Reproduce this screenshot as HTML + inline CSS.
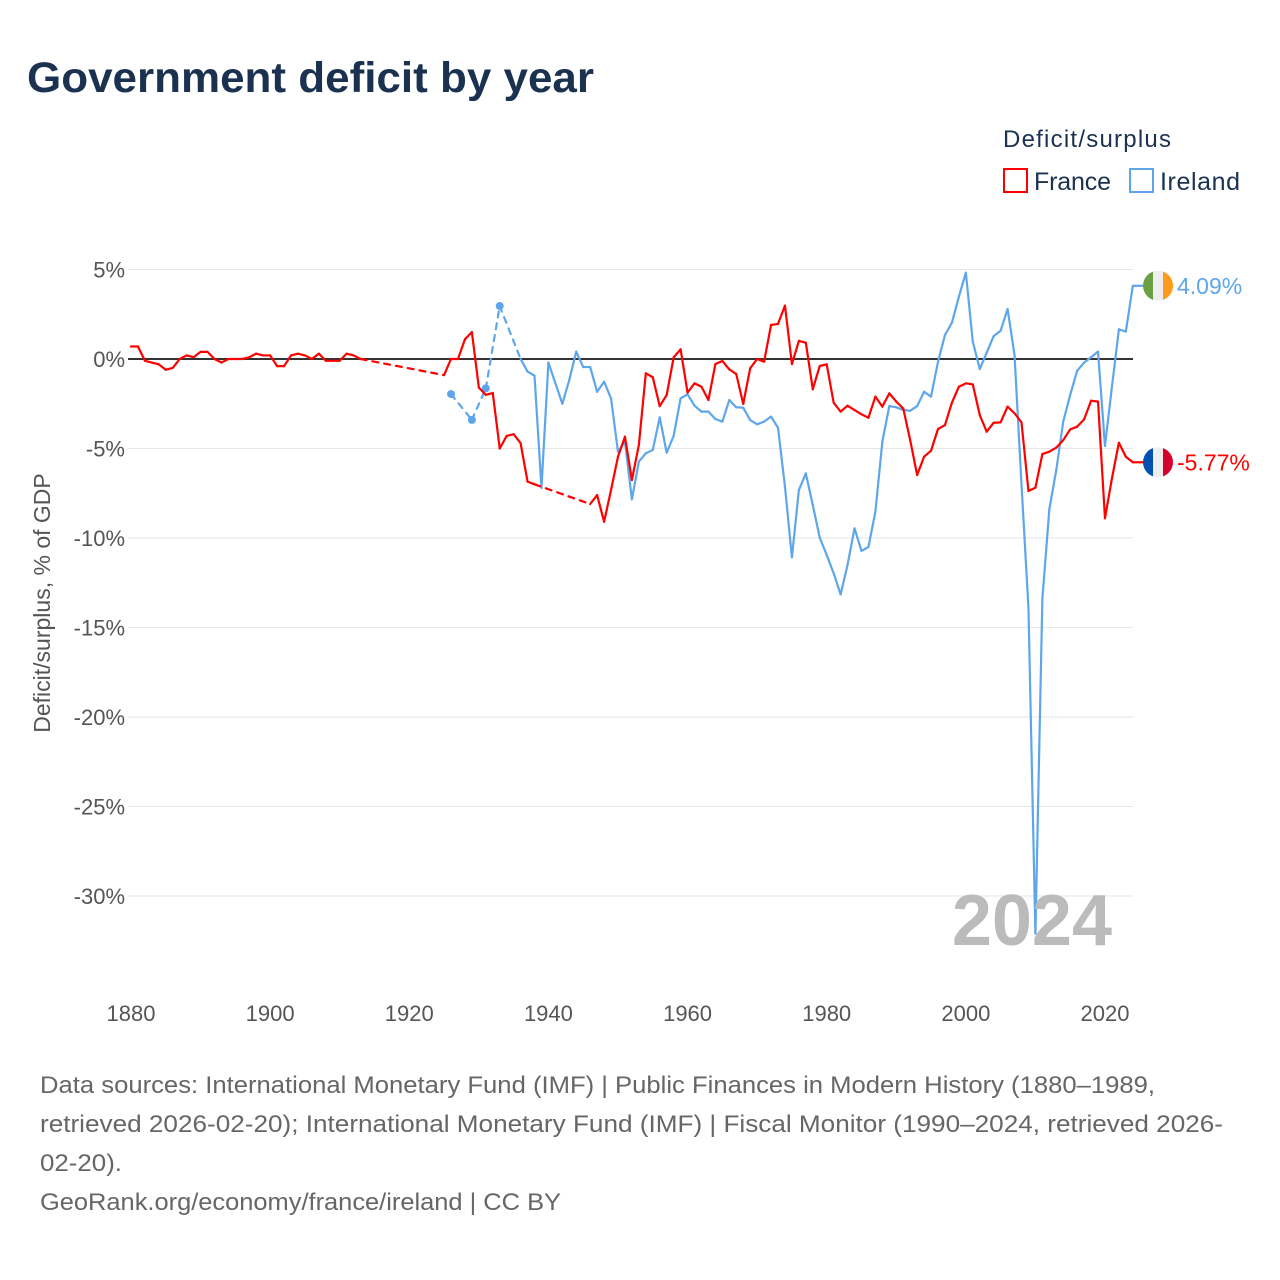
<!DOCTYPE html>
<html><head><meta charset="utf-8"><style>
body{margin:0;background:#fff;}
svg{display:block;font-family:"Liberation Sans",sans-serif;}
</style></head><body>
<svg id="chart" width="1280" height="1280" viewBox="0 0 1280 1280">
<text x="27" y="92" font-size="43" font-weight="bold" fill="#1a3150" textLength="567" lengthAdjust="spacingAndGlyphs">Government deficit by year</text>
<text x="1003" y="147" font-size="24" fill="#1a3150" textLength="168">Deficit/surplus</text>
<g><rect x="1004" y="169" width="23" height="23" fill="none" stroke="#f00" stroke-width="2"/><text x="1034" y="190" font-size="25" fill="#1a3150" textLength="77">France</text></g>
<g><rect x="1130" y="169" width="23" height="23" fill="none" stroke="#5ea6eb" stroke-width="2"/><text x="1160" y="190" font-size="25" fill="#1a3150" textLength="80">Ireland</text></g>
<g id="grid"></g><g id="series"></g>
<text x="1112" y="945" font-size="72" font-weight="bold" fill="#bbb" text-anchor="end">2024</text>
<text transform="translate(50,603) rotate(-90)" font-size="23" fill="#555" text-anchor="middle">Deficit/surplus, % of GDP</text>
<g font-size="24" fill="#666">
<text x="40" y="1093" textLength="1115" lengthAdjust="spacingAndGlyphs">Data sources: International Monetary Fund (IMF) | Public Finances in Modern History (1880–1989,</text>
<text x="40" y="1132" textLength="1183" lengthAdjust="spacingAndGlyphs">retrieved 2026-02-20); International Monetary Fund (IMF) | Fiscal Monitor (1990–2024, retrieved 2026-</text>
<text x="40" y="1171" textLength="82" lengthAdjust="spacingAndGlyphs">02-20).</text>
<text x="40" y="1210" textLength="521" lengthAdjust="spacingAndGlyphs">GeoRank.org/economy/france/ireland | CC BY</text>
</g>
</svg>
<script>
const yTicks=[5,0,-5,-10,-15,-20,-25,-30];
const xTicks=[1880,1900,1920,1940,1960,1980,2000,2020];
const franceYears=[1880,1881,1882,1883,1884,1885,1886,1887,1888,1889,1890,1891,1892,1893,1894,1895,1896,1897,1898,1899,1900,1901,1902,1903,1904,1905,1906,1907,1908,1909,1910,1911,1912,1913,1925,1926,1927,1928,1929,1930,1931,1932,1933,1934,1935,1936,1937,1938,1946,1947,1948,1949,1950,1951,1952,1953,1954,1955,1956,1957,1958,1959,1960,1961,1962,1963,1964,1965,1966,1967,1968,1969,1970,1971,1972,1973,1974,1975,1976,1977,1978,1979,1980,1981,1982,1983,1984,1985,1986,1987,1988,1989,1990,1991,1992,1993,1994,1995,1996,1997,1998,1999,2000,2001,2002,2003,2004,2005,2006,2007,2008,2009,2010,2011,2012,2013,2014,2015,2016,2017,2018,2019,2020,2021,2022,2023,2024];
const franceValues=[0.7,0.7,-0.1,-0.2,-0.3,-0.6,-0.5,0,0.2,0.1,0.4,0.4,0,-0.2,0,0,0,0.1,0.3,0.2,0.2,-0.4,-0.4,0.2,0.3,0.2,0,0.3,-0.1,-0.1,-0.1,0.3,0.2,0,-0.9,0,0,1.1,1.5,-1.6,-2.0,-1.9,-5.0,-4.3,-4.2,-4.7,-6.85,-7.0,-8.1,-7.6,-9.09,-7.32,-5.46,-4.34,-6.76,-4.8,-0.8,-1.02,-2.63,-2.01,0.09,0.54,-1.88,-1.36,-1.55,-2.29,-0.28,-0.11,-0.58,-0.84,-2.51,-0.52,0,-0.15,1.9,1.96,2.98,-0.28,1.01,0.91,-1.69,-0.39,-0.3,-2.44,-2.94,-2.61,-2.85,-3.09,-3.28,-2.1,-2.66,-1.92,-2.38,-2.76,-4.53,-6.48,-5.46,-5.12,-3.91,-3.69,-2.44,-1.55,-1.36,-1.42,-3.13,-4.06,-3.56,-3.54,-2.66,-3.03,-3.54,-7.37,-7.19,-5.31,-5.18,-4.95,-4.53,-3.93,-3.78,-3.37,-2.33,-2.38,-8.9,-6.67,-4.68,-5.46,-5.77];
const irelandYears=[1926,1929,1931,1933,1936,1937,1938,1939,1940,1941,1942,1943,1944,1945,1946,1947,1948,1949,1950,1951,1952,1953,1954,1955,1956,1957,1958,1959,1960,1961,1962,1963,1964,1965,1966,1967,1968,1969,1970,1971,1972,1973,1974,1975,1976,1977,1978,1979,1980,1981,1982,1983,1984,1985,1986,1987,1988,1989,1990,1991,1992,1993,1994,1995,1996,1997,1998,1999,2000,2001,2002,2003,2004,2005,2006,2007,2008,2009,2010,2011,2012,2013,2014,2015,2016,2017,2018,2019,2020,2021,2022,2023,2024];
const irelandValues=[-1.96,-3.4,-1.64,2.96,0,-0.7,-0.93,-7.2,-0.2,-1.35,-2.5,-1.17,0.41,-0.45,-0.45,-1.83,-1.27,-2.2,-5.18,-4.61,-7.84,-5.73,-5.27,-5.08,-3.26,-5.23,-4.3,-2.2,-1.97,-2.61,-2.94,-2.94,-3.35,-3.5,-2.29,-2.7,-2.72,-3.41,-3.65,-3.5,-3.22,-3.84,-7.13,-11.08,-7.32,-6.39,-8.16,-9.98,-10.95,-11.97,-13.15,-11.5,-9.46,-10.72,-10.5,-8.53,-4.61,-2.63,-2.7,-2.85,-2.89,-2.63,-1.83,-2.1,-0.15,1.34,2.03,3.48,4.82,0.97,-0.56,0.35,1.28,1.58,2.79,0.22,-7.0,-13.9,-32.1,-13.4,-8.4,-6.2,-3.5,-2.0,-0.66,-0.2,0.1,0.41,-4.86,-1.55,1.66,1.53,4.09];
const NS='http://www.w3.org/2000/svg';
const X=y=>131+(y-1880)*6.957;
const Y=v=>359-v*17.9;
const grid=document.getElementById('grid'), ser=document.getElementById('series');
function mk(tag,attrs,parent){const e=document.createElementNS(NS,tag);for(const k in attrs)e.setAttribute(k,attrs[k]);parent.appendChild(e);return e;}
yTicks.forEach(t=>{
  if(t!==0){const l=mk('line',{x1:128,x2:1133,y1:Y(t),y2:Y(t),stroke:'#e6e6e6','stroke-width':1},grid);
  
  }
  const tx=mk('text',{x:125,y:Y(t)+8,'font-size':22,fill:'#555','text-anchor':'end'},grid);
  tx.textContent=t+'%';
  
  
});
xTicks.forEach(t=>{
  const tx=mk('text',{x:X(t),y:1021,'font-size':22,fill:'#555','text-anchor':'middle'},grid);
  tx.textContent=t;
  
  
});
const zl=mk('line',{x1:128,x2:1133,y1:Y(0),y2:Y(0),stroke:'#333','stroke-width':2},grid);


function draw(years,vals,color,name){
  for(let i=1;i<years.length;i++){
    const gap=years[i]-years[i-1]>1;
    const l=mk('line',{x1:X(years[i-1]),y1:Y(vals[i-1]),x2:X(years[i]),y2:Y(vals[i]),stroke:color,'stroke-width':2.2,'stroke-linecap':'round'},ser);
    if(gap)l.setAttribute('stroke-dasharray','6,6');
    
    
  }
  const n=years.length-1;
  const tail=mk('line',{x1:X(years[n]),y1:Y(vals[n]),x2:1145,y2:Y(vals[n]),stroke:color,'stroke-width':2.2},ser);
  
  
  years.forEach((y,i)=>{
    const prevGap=i===0||y-years[i-1]>1, nextGap=i===years.length-1||years[i+1]-y>1;
    if(prevGap&&nextGap&&i<years.length-1){
      const c=mk('circle',{cx:X(y),cy:Y(vals[i]),r:4,fill:color},ser);
      
      
    }
  });
}
draw(irelandYears,irelandValues,'#5ea6eb','ireland-line');
draw(franceYears,franceValues,'#f00','france-line');
function flag(cx,val,cols,label,color,name){
  const cy=Y(val);
  const g=mk('g',{},ser);
  
  
  const cp=mk('clipPath',{id:'cp'+name},g);
  mk('circle',{cx:cx,cy:cy,r:15},cp);
  cols.forEach((c,i)=>mk('rect',{x:cx-15+i*10,y:cy-15,width:10,height:30,fill:c,'clip-path':'url(#cp'+name+')'},g));
  const t=mk('text',{x:cx+19,y:cy+8,'font-size':23,fill:color},g);
  t.textContent=label;
}
flag(1158,irelandValues[irelandValues.length-1],['#6a9f42','#eee','#ff9a1a'],irelandValues[irelandValues.length-1].toFixed(2)+'%','#5ea6eb','ireland-end-label');
flag(1158,franceValues[franceValues.length-1],['#0050b0','#eee','#d5002b'],franceValues[franceValues.length-1].toFixed(2)+'%','#f00','france-end-label');
</script>
</body></html>
